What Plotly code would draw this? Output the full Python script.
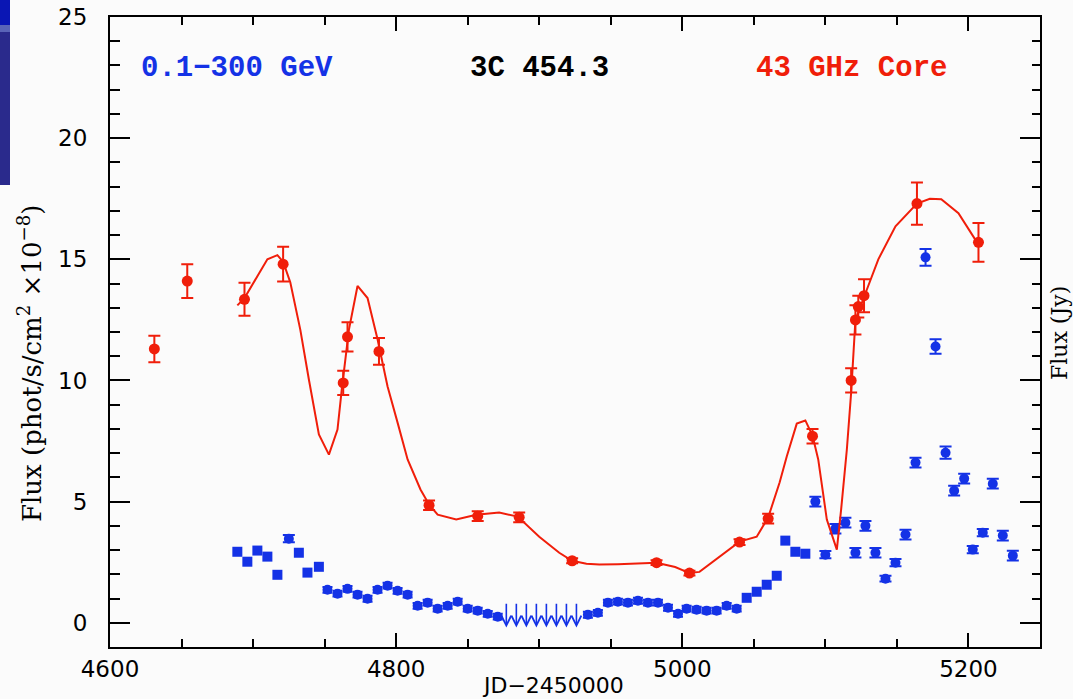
import plotly.graph_objects as go

# ---------------- data ----------------
# 43 GHz core (Jy)
red_x = [4631, 4654, 4694, 4721, 4763, 4766, 4788, 4823, 4857, 4886, 4923, 4982,
         5005, 5040, 5060, 5091, 5118, 5121, 5123, 5127, 5164, 5207]
red_y = [11.3, 14.1, 13.35, 14.8, 9.9, 11.8, 11.2, 4.85, 4.4, 4.35, 2.56, 2.48,
         2.05, 3.33, 4.3, 7.7, 10.0, 12.5, 13.05, 13.5, 17.3, 15.7]
red_err = [0.55, 0.7, 0.68, 0.72, 0.5, 0.6, 0.55, 0.2, 0.2, 0.2, 0.1, 0.1,
           0.1, 0.12, 0.2, 0.3, 0.5, 0.6, 0.45, 0.68, 0.87, 0.8]

# model curve through the radio data
curve_x = [4689, 4694, 4703, 4710, 4717, 4721, 4726, 4733, 4739, 4746, 4753, 4759,
           4762, 4767, 4773, 4780, 4787, 4794, 4801, 4808, 4817, 4823, 4829, 4842,
           4856, 4872, 4885, 4900, 4914, 4923, 4933, 4942, 4955, 4970, 4982, 4995,
           5005, 5012, 5026, 5040, 5052, 5060, 5068, 5073, 5080, 5086, 5091, 5095,
           5101, 5108, 5111, 5115, 5118, 5121, 5128, 5137, 5149, 5164, 5173, 5181,
           5193, 5206]
curve_y = [13.1, 13.4, 14.3, 15.0, 15.17, 14.9, 14.05, 12.1, 10.04, 7.77, 6.94, 7.97,
           9.63, 12.1, 13.9, 13.4, 11.7, 9.75, 8.26, 6.74, 5.5, 4.88, 4.46, 4.26,
           4.46, 4.55, 4.38, 3.55, 2.89, 2.56, 2.44, 2.4, 2.42, 2.47, 2.48, 2.3,
           2.05, 2.1, 2.73, 3.35, 3.55, 4.34, 5.79, 6.86, 8.22, 8.35, 7.73, 6.74,
           4.26, 3.02, 4.67, 7.15, 9.5, 12.5, 13.6, 15.0, 16.36, 17.3, 17.5, 17.48,
           16.9, 15.7]

# 0.1-300 GeV gamma-ray flux (1e-8 phot/s/cm^2)
sq_x = [4689, 4696, 4703, 4710, 4717, 4732, 4738, 4746, 5045, 5052, 5059, 5066,
        5072, 5079, 5086]
sq_y = [2.93, 2.52, 2.98, 2.73, 1.98, 2.89, 2.07, 2.31, 1.03, 1.28, 1.57, 1.94,
        3.39, 2.93, 2.85]

mid_x = [4752, 4759, 4766, 4773, 4780, 4787, 4794, 4801, 4808, 4815, 4822, 4829,
         4836, 4843, 4850, 4857, 4864, 4871, 4934, 4941, 4948, 4955, 4962, 4969,
         4976, 4983, 4990, 4997, 5003, 5010, 5017, 5024, 5031, 5038]
mid_y = [1.36, 1.2, 1.4, 1.16, 0.99, 1.36, 1.53, 1.32, 1.16, 0.7, 0.83, 0.58,
         0.7, 0.87, 0.58, 0.5, 0.37, 0.25, 0.33, 0.41, 0.83, 0.87, 0.83, 0.91,
         0.83, 0.83, 0.62, 0.37, 0.58, 0.54, 0.5, 0.5, 0.7, 0.58]

ec_x = [4725, 5093, 5100, 5107, 5114, 5121, 5128, 5135, 5142, 5149, 5156, 5163,
        5170, 5177, 5184, 5190, 5197, 5203, 5210, 5217, 5224, 5231]
ec_y = [3.47, 5.0, 2.81, 3.88, 4.13, 2.89, 4.0, 2.89, 1.82, 2.48, 3.64, 6.61,
        15.08, 11.4, 7.02, 5.45, 5.95, 3.02, 3.72, 5.74, 3.6, 2.77]
ec_err = [0.15, 0.2, 0.15, 0.2, 0.2, 0.2, 0.2, 0.2, 0.12, 0.15, 0.2, 0.2,
          0.35, 0.3, 0.25, 0.2, 0.2, 0.15, 0.15, 0.2, 0.2, 0.2]

# upper limits
ul_x = [4877, 4884, 4891, 4898, 4905, 4912, 4919, 4926]
ul_y = [0.85, 0.85, 0.85, 0.85, 0.85, 0.85, 0.85, 0.85]

x_ticks = [4600, 4800, 5000, 5200]
y_ticks = [0, 5, 10, 15, 20, 25]

RED = "#f01e0a"
BLUE = "#1432e6"
TICKFONT = dict(family="DejaVu Sans", size=23, color="black")

# plot area in pixels (for placing free texts)
L, R, T, B = 110, 1040, 17, 647
def px(x):
    return (x - L) / (R - L)
def py(y):
    return (B - y) / (B - T)

fig = go.Figure()

fig.add_trace(go.Scatter(x=curve_x, y=curve_y, mode="lines",
                         line=dict(color=RED, width=2), yaxis="y2",
                         hoverinfo="skip", showlegend=False))
fig.add_trace(go.Scatter(x=red_x, y=red_y, mode="markers", yaxis="y2",
                         marker=dict(color=RED, size=11, symbol="circle"),
                         error_y=dict(type="data", array=red_err, color=RED,
                                      thickness=2, width=6),
                         showlegend=False))

fig.add_trace(go.Scatter(x=sq_x, y=sq_y, mode="markers",
                         marker=dict(color=BLUE, size=10, symbol="square"),
                         showlegend=False))
fig.add_trace(go.Scatter(x=mid_x, y=mid_y, mode="markers",
                         marker=dict(color=BLUE, size=10, symbol="circle"),
                         error_y=dict(type="constant", value=0.12, color=BLUE,
                                      thickness=2, width=5),
                         showlegend=False))
fig.add_trace(go.Scatter(x=ec_x, y=ec_y, mode="markers",
                         marker=dict(color=BLUE, size=10, symbol="circle"),
                         error_y=dict(type="data", array=ec_err, color=BLUE,
                                      thickness=2, width=6),
                         showlegend=False))

annotations = []
for ux, uy in zip(ul_x, ul_y):
    annotations.append(dict(x=ux, y=uy - 1.05, ax=ux, ay=uy, xref="x", yref="y",
                            axref="x", ayref="y", showarrow=True, arrowhead=5,
                            arrowsize=1.2, arrowwidth=1.6, arrowcolor=BLUE, text=""))

label_font = dict(family="Liberation Mono", size=29, weight="bold")
annotations += [
    dict(text="0.1\u2212300 GeV", x=px(139), y=py(68), xref="paper", yref="paper",
         xanchor="left", yanchor="middle", showarrow=False,
         font=dict(**label_font, color=BLUE)),
    dict(text="3C 454.3", x=px(468), y=py(68), xref="paper", yref="paper",
         xanchor="left", yanchor="middle", showarrow=False,
         font=dict(**label_font, color="black")),
    dict(text="43 GHz Core", x=px(754), y=py(68), xref="paper", yref="paper",
         xanchor="left", yanchor="middle", showarrow=False,
         font=dict(**label_font, color=RED)),
    dict(text="Flux (phot/s/cm<sup>2</sup> \u00d710<sup>\u22128</sup>)",
         x=px(30), y=py(364), xref="paper", yref="paper",
         xanchor="center", yanchor="middle", textangle=-90, showarrow=False,
         font=dict(family="DejaVu Serif", size=26, color="black")),
    dict(text="Flux (Jy)", x=px(1059), y=py(333),
         xref="paper", yref="paper", xanchor="center", yanchor="middle",
         textangle=-90, showarrow=False,
         font=dict(family="DejaVu Serif", size=22, color="black")),
    dict(text="JD\u22122450000", x=px(553), y=py(685),
         xref="paper", yref="paper", xanchor="center", yanchor="middle",
         showarrow=False, font=dict(family="DejaVu Sans", size=22, color="black")),
]

axis_common = dict(showgrid=False, zeroline=False, showline=True, linecolor="black",
                   linewidth=2, ticks="inside", tickcolor="black", tickwidth=2,
                   automargin=False)

fig.update_layout(
    width=1073, height=699,
    margin=dict(l=L, r=1073 - R, t=T, b=699 - B, pad=0, autoexpand=False),
    paper_bgcolor="#fbfbfb", plot_bgcolor="rgba(0,0,0,0)",
    showlegend=False,
    xaxis=dict(**axis_common, range=[4600, 5250], tickvals=x_ticks, ticklen=14,
               mirror="ticks", tickfont=TICKFONT, ticklabelstandoff=0,
               minor=dict(dtick=50, tick0=4600, ticks="inside", ticklen=8,
                          tickwidth=2, tickcolor="black")),
    yaxis=dict(**axis_common, range=[-1, 25], tickvals=y_ticks, ticklen=20,
               mirror=False, tickfont=TICKFONT, ticklabelstandoff=16,
               minor=dict(dtick=1, tick0=0, ticks="inside", ticklen=10,
                          tickwidth=2, tickcolor="black")),
    yaxis2=dict(**axis_common, range=[-1, 25], tickvals=y_ticks, ticklen=20,
                overlaying="y", side="right", showticklabels=False,
                minor=dict(dtick=1, tick0=0, ticks="inside", ticklen=8,
                           tickwidth=2, tickcolor="black")),
    annotations=annotations,
    shapes=[
        dict(type="rect", xref="paper", yref="paper", x0=px(0), x1=px(10),
             y0=py(25), y1=py(0), fillcolor="#0a16b4", line_width=0, layer="below"),
        dict(type="rect", xref="paper", yref="paper", x0=px(0), x1=px(10),
             y0=py(32), y1=py(25), fillcolor="#5a64b8", line_width=0, layer="below"),
        dict(type="rect", xref="paper", yref="paper", x0=px(0), x1=px(10),
             y0=py(185), y1=py(32), fillcolor="#2a2a8c", line_width=0, layer="below"),
    ],
)

fig.write_html("out.html")
